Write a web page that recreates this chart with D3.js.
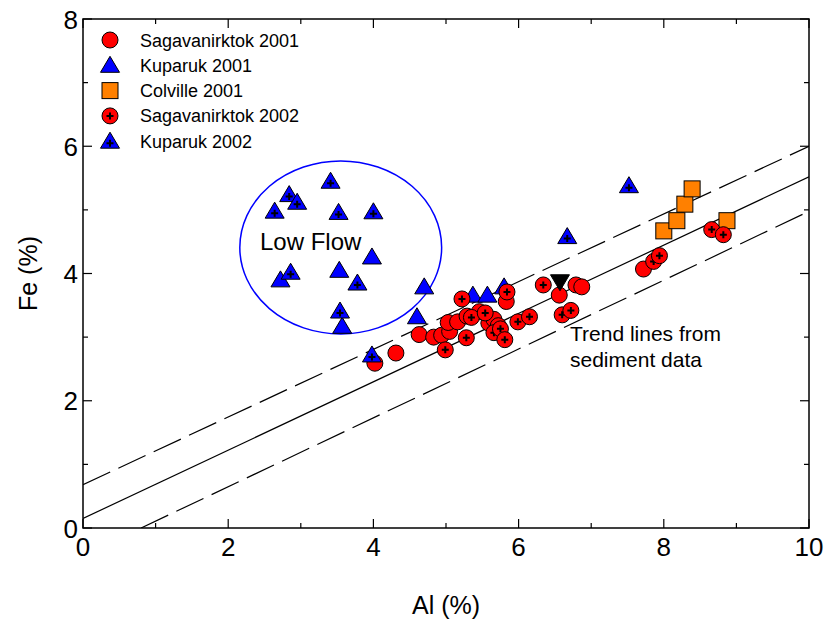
<!DOCTYPE html>
<html>
<head>
<meta charset="utf-8">
<script src="https://cdn.jsdelivr.net/npm/d3@7"></script>
<style>
  html, body { margin: 0; padding: 0; background: #fff; }
  svg { display: block; font-family: "Liberation Sans", Arial, sans-serif; }
</style>
</head>
<body>
<svg id="chart" width="828" height="623"></svg>
<script>
// Axis ticks
const xTicks = [0, 2, 4, 6, 8, 10];
const yTicks = [0, 2, 4, 6, 8];
const xMinor = [1, 3, 5, 7, 9];
const yMinor = [1, 3, 5, 7];

// Series: [Al %, Fe %]
const sag2001 = [
  [4.02, 2.59], [4.31, 2.75], [4.63, 3.04], [4.83, 3.00], [4.94, 3.03],
  [5.05, 3.09], [5.03, 3.23], [5.16, 3.24], [5.29, 3.33], [5.46, 3.40],
  [5.59, 3.22], [5.66, 3.28], [5.72, 3.18], [5.83, 3.56], [6.56, 3.66],
  [6.79, 3.82], [6.87, 3.79], [7.72, 4.07]
];
const kup2001 = [
  [3.98, 4.26], [3.53, 4.05], [2.72, 3.90], [4.70, 3.79], [3.57, 3.17],
  [4.60, 3.32], [5.37, 3.66], [5.57, 3.66], [5.80, 3.79]
];
const col2001 = [
  [8.00, 4.67], [8.18, 4.83], [8.29, 5.09], [8.39, 5.33], [8.87, 4.83]
];
const sag2002 = [
  [4.99, 2.80], [5.22, 3.60], [5.28, 2.99], [5.35, 3.31], [5.54, 3.38],
  [5.66, 3.07], [5.75, 3.13], [5.81, 2.96], [5.84, 3.71], [5.99, 3.24],
  [6.15, 3.32], [6.34, 3.82], [6.60, 3.35], [6.72, 3.42], [7.86, 4.19],
  [7.94, 4.28], [8.66, 4.69], [8.82, 4.61]
];
const kup2002 = [
  [3.41, 5.45], [2.84, 5.24], [2.95, 5.12], [2.64, 4.98], [3.52, 4.96],
  [4.00, 4.97], [2.86, 4.02], [3.78, 3.85], [3.54, 3.41], [3.98, 2.72],
  [6.67, 4.58], [7.52, 5.38]
];
const otherPoint = [[6.57, 3.87]];

// Trend lines from sediment data: [intercept, slope]
const trendCentre = [0.15, 0.537];
const trendUpper = [0.68, 0.532];
const trendLower = [-0.433, 0.541];

// Low-flow group outline (centre Al, centre Fe, radius Al, radius Fe)
const lowFlow = [3.55, 4.41, 1.39, 1.36];

const legendNames = ["Sagavanirktok 2001", "Kuparuk 2001", "Colville 2001",
                     "Sagavanirktok 2002", "Kuparuk 2002"];

const svg = d3.select("#chart");
const plotL = 83, plotR = 809, plotT = 19, plotB = 528;
const x = d3.scaleLinear().domain([0, 10]).range([plotL, plotR]);
const y = d3.scaleLinear().domain([0, 8]).range([plotB, plotT]);

const defs = svg.append("defs");
defs.append("clipPath").attr("id", "plotclip")
  .append("rect").attr("x", plotL).attr("y", plotT)
  .attr("width", plotR - plotL).attr("height", plotB - plotT);

// Trend lines, drawn left to right starting where each enters the plot
const trendG = svg.append("g").attr("clip-path", "url(#plotclip)");
function trend(p, dash) {
  const x0 = Math.max(0, -p[0] / p[1]);
  const line = d3.line().x(d => x(d)).y(d => y(p[0] + p[1] * d));
  trendG.append("path")
    .attr("d", line([x0, 10]))
    .attr("fill", "none").attr("stroke", "#000").attr("stroke-width", 1.2)
    .attr("stroke-dasharray", dash);
}
trend(trendCentre, null);
trend(trendUpper, "30,9");
trend(trendLower, "30,9");

// Low flow ellipse
svg.append("ellipse")
  .attr("cx", x(lowFlow[0])).attr("cy", y(lowFlow[1]))
  .attr("rx", x(lowFlow[2]) - x(0)).attr("ry", y(0) - y(lowFlow[3]))
  .attr("fill", "none").attr("stroke", "#0000ff").attr("stroke-width", 1.5);

// Marker drawing helpers
const crossPath = "M-3.5,0H3.5M0,-3.5V3.5";
function circleMark(g, cross) {
  g.append("circle").attr("r", 8).attr("fill", "#ff0000")
    .attr("stroke", "#000").attr("stroke-width", 1);
  if (cross) g.append("path").attr("d", crossPath)
    .attr("stroke", "#000").attr("stroke-width", 2);
}
function triMark(g, cross) {
  g.append("path").attr("d", "M0,-9L9.5,7L-9.5,7Z").attr("fill", "#0000ff")
    .attr("stroke", "#000").attr("stroke-width", 1);
  if (cross) g.append("path").attr("d", crossPath).attr("transform", "translate(0,2)")
    .attr("stroke", "#000").attr("stroke-width", 2);
}
function squareMark(g) {
  g.append("rect").attr("x", -8).attr("y", -8).attr("width", 16).attr("height", 16)
    .attr("fill", "#ff8000").attr("stroke", "#000").attr("stroke-width", 1);
}
function invTriMark(g) {
  g.append("path").attr("d", "M0,9L9.5,-7L-9.5,-7Z").attr("fill", "#000")
    .attr("stroke", "#000").attr("stroke-width", 1);
}

function plotSeries(data, draw) {
  svg.append("g").selectAll("g").data(data).join("g")
    .attr("transform", d => `translate(${x(d[0])},${y(d[1])})`)
    .each(function () { draw(d3.select(this)); });
}
plotSeries(sag2001, g => circleMark(g, false));
plotSeries(kup2001, g => triMark(g, false));
plotSeries(col2001, g => squareMark(g));
plotSeries(sag2002, g => circleMark(g, true));
plotSeries(kup2002, g => triMark(g, true));
plotSeries(otherPoint, g => invTriMark(g));

// Frame
svg.append("rect").attr("x", plotL).attr("y", plotT)
  .attr("width", plotR - plotL).attr("height", plotB - plotT)
  .attr("fill", "none").attr("stroke", "#000").attr("stroke-width", 1.5);

// Inward ticks on all four sides
const tickG = svg.append("g").attr("stroke", "#000").attr("stroke-width", 1.2);
function xTick(v, len) {
  tickG.append("line").attr("x1", x(v)).attr("x2", x(v)).attr("y1", plotB).attr("y2", plotB - len);
  tickG.append("line").attr("x1", x(v)).attr("x2", x(v)).attr("y1", plotT).attr("y2", plotT + len);
}
function yTick(v, len) {
  tickG.append("line").attr("y1", y(v)).attr("y2", y(v)).attr("x1", plotL).attr("x2", plotL + len);
  tickG.append("line").attr("y1", y(v)).attr("y2", y(v)).attr("x1", plotR).attr("x2", plotR - len);
}
xTicks.forEach(v => xTick(v, 9));
xMinor.forEach(v => xTick(v, 5));
yTicks.forEach(v => yTick(v, 9));
yMinor.forEach(v => yTick(v, 5));

// Tick labels
svg.append("g").selectAll("text").data(xTicks).join("text")
  .attr("x", d => x(d)).attr("y", 556).attr("text-anchor", "middle")
  .attr("font-size", 26).text(d => d);
svg.append("g").selectAll("text").data(yTicks).join("text")
  .attr("x", 78).attr("y", d => y(d) + 9.5).attr("text-anchor", "end")
  .attr("font-size", 26).text(d => d);

// Axis titles
svg.append("text").attr("x", x(5)).attr("y", 614).attr("text-anchor", "middle")
  .attr("font-size", 25).text("Al (%)");
svg.append("text").attr("transform", `translate(37,${y(4)}) rotate(-90)`)
  .attr("text-anchor", "middle").attr("font-size", 25).text("Fe (%)");

// Annotations
svg.append("text").attr("x", 260).attr("y", 250).attr("font-size", 24).text("Low Flow");
svg.append("text").attr("x", 570).attr("y", 341).attr("font-size", 21).text("Trend lines from");
svg.append("text").attr("x", 570).attr("y", 367).attr("font-size", 21).text("sediment data");

// Legend
const legendMarks = [
  g => circleMark(g, false), g => triMark(g, false), g => squareMark(g),
  g => circleMark(g, true), g => triMark(g, true)
];
legendNames.forEach((name, i) => {
  const yy = 40 + i * 25.3;
  const g = svg.append("g").attr("transform", `translate(110,${yy})`);
  legendMarks[i](g);
  svg.append("text").attr("x", 140).attr("y", yy + 6.5).attr("font-size", 18).text(name);
});
</script>
</body>
</html>
